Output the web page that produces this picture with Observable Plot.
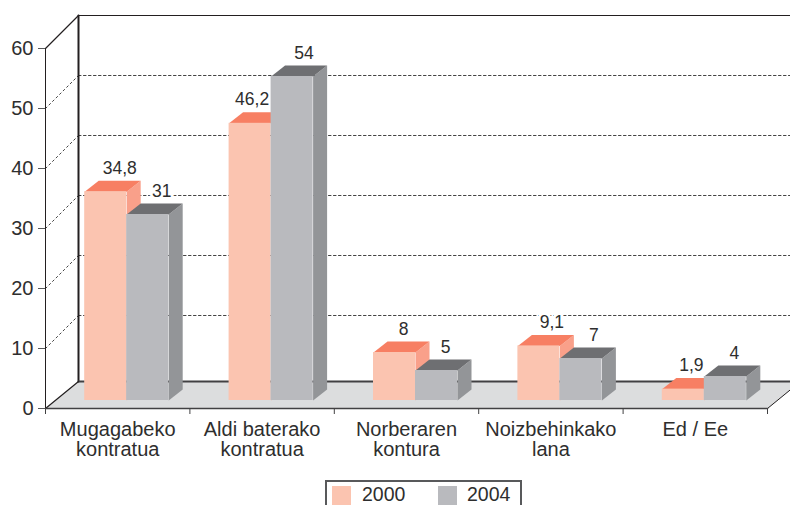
<!DOCTYPE html>
<html>
<head>
<meta charset="utf-8">
<script src="https://cdn.jsdelivr.net/npm/d3@7"></script>
<script src="https://cdn.jsdelivr.net/npm/@observablehq/plot@0.6"></script>
<style>
html,body{margin:0;padding:0;width:790px;height:505px;overflow:hidden;background:#fff}
#chart svg{display:block;overflow:hidden;max-width:none}
#legend{position:absolute;left:325px;top:480px;width:193px;height:40px;border:2px solid #58595b;
 font:19.5px "Liberation Sans",Arial,sans-serif;color:#2e2e2e}
#legend i{position:absolute;top:4px;width:19px;height:30px}
#legend span{position:absolute;top:3px;line-height:18px}
</style>
</head>
<body>
<div id="chart"></div>
<div id="legend"></div>
<script>
// data
const categories = ["Mugagabeko\nkontratua", "Aldi baterako\nkontratua", "Norberaren\nkontura", "Noizbehinkako\nlana", "Ed / Ee"];
const values2000 = [34.8, 46.2, 8, 9.1, 1.9];
const values2004 = [31, 54, 5, 7, 4];
const labels2000 = ["34,8", "46,2", "8", "9,1", "1,9"];
const labels2004 = ["31", "54", "5", "7", "4"];
const yTicks = [0, 10, 20, 30, 40, 50, 60];
const gridValues = [10, 20, 30, 40, 50];

// look
const colors2000 = {front: "#fbc4b0", top: "#f77f63", side: "#f9a08a"};
const colors2004 = {front: "#b9babe", top: "#6e6f72", side: "#939598"};
const ink = "#2e2e2e";
const font = '"Liberation Sans", Arial, sans-serif';

// 3D projection, in axis units (one x unit = one category, one y unit = one percent)
const pxX = 1 / 144.4, pxY = 1 / 6;
const wallX = 33 * pxX, wallY = 33 * pxY, floorY = 27 * pxY;
const barW = 42 * pxX, barShift = 9 * pxX, barBase = 8 * pxY;
const depthX = 14 * pxX, depthY = 11 * pxY;
const labelShift2000 = [14, 2, 9, 13, 8].map(d => d * pxX);
const labelShift2004 = [14, 12, 9, 13, 9].map(d => d * pxX);
const labelRise = 18 * pxY;

function bars(values, labels, offset, colors, shifts, name) {
  const rows = values.map((v, i) => {
    const x1 = i + 0.5 + barShift + offset * barW, x2 = x1 + barW, y1 = barBase, y2 = barBase + v;
    return {v, i, x1, x2, y1, y2, label: labels[i], lx: (x1 + x2) / 2 + shifts[i], ly: y2 + labelRise};
  });
  const polys = rows.flatMap(r => [
    ...[[r.x2, r.y1], [r.x2 + depthX, r.y1 + depthY], [r.x2 + depthX, r.y2 + depthY], [r.x2, r.y2]]
      .map(([x, y]) => ({x, y, id: `${name}s${r.i}`, c: colors.side})),
    ...[[r.x1, r.y2], [r.x2, r.y2], [r.x2 + depthX, r.y2 + depthY], [r.x1 + depthX, r.y2 + depthY]]
      .map(([x, y]) => ({x, y, id: `${name}t${r.i}`, c: colors.top}))
  ]);
  return {rows, polys, colors};
}
const a = bars(values2000, labels2000, -1, colors2000, labelShift2000, "a");
const b = bars(values2004, labels2004, 0, colors2004, labelShift2004, "b");

const floorPoly = [[0, 0], [5, 0], [5 + wallX, floorY], [wallX, floorY]].map(([x, y]) => ({x, y}));
const face = o => Plot.line(o.polys, {x: "x", y: "y", z: "id", fill: "c", stroke: "none", curve: "linear"});
const front = o => Plot.rect(o.rows, {x1: "x1", x2: "x2", y1: "y1", y2: "y2", fill: o.colors.front});
const valueText = o => Plot.text(o.rows, {x: "lx", y: "ly", text: "label", lineAnchor: "bottom", textAnchor: "middle",
  fontSize: 17.5, fill: ink, stroke: "white", strokeWidth: 6, paintOrder: "stroke"});
const seg = (p, opts) => Plot.line(p.map(([x, y]) => ({x, y})), {x: "x", y: "y", curve: "linear", ...opts});

const chart = Plot.plot({
  width: 790, height: 479,
  marginLeft: 45, marginRight: 23, marginTop: 48, marginBottom: 71,
  style: {background: "transparent", fontFamily: font},
  x: {domain: [0, 5], axis: null},
  y: {domain: [0, 60], axis: null},
  color: {type: "identity"},
  marks: [
    Plot.line(floorPoly, {x: "x", y: "y", fill: "#dcddde", stroke: "none", curve: "linear"}),
    // dotted wall and side grid
    ...gridValues.map(v => seg([[0, v], [wallX, v + wallY]], {stroke: "#444", strokeWidth: 1, strokeDasharray: "2,3"})),
    ...gridValues.map(v => seg([[wallX, v + wallY], [5.3, v + wallY]], {stroke: "#444", strokeWidth: 1, strokeDasharray: "2.5,2.5"})),
    // frame
    seg([[wallX, 60 + wallY], [5.3, 60 + wallY]], {stroke: "#231f20", strokeWidth: 1.2}),
    seg([[0, 60], [wallX, 60 + wallY]], {stroke: "#231f20", strokeWidth: 1.2}),
    seg([[0, 0], [0, 60]], {stroke: "#231f20", strokeWidth: 1}),
    seg([[wallX, floorY], [wallX, 60 + wallY]], {stroke: "#231f20", strokeWidth: 2}),
    seg([[wallX, floorY], [5 + wallX, floorY]], {stroke: "#414042", strokeWidth: 1.8}),
    seg([[0, 0], [wallX, floorY]], {stroke: "#231f20", strokeWidth: 1.2}),
    seg([[5, 0], [5 + wallX, floorY]], {stroke: "#231f20", strokeWidth: 1}),
    seg([[0, 0], [5, 0]], {stroke: "#414042", strokeWidth: 1.6}),
    valueText(a), valueText(b),
    face(a), front(a), face(b), front(b),
    // axes
    Plot.axisY({ticks: yTicks, tickSize: 7, tickPadding: 5, fontSize: 20, label: null, stroke: "#58595b", color: ink}),
    Plot.axisX({ticks: d3.range(6), tickSize: 6, tickFormat: () => "", label: null, stroke: "#414042"}),
    Plot.axisX({ticks: categories.map((_, i) => i + 0.5), tickSize: 0, tickPadding: 13.5, fontSize: 20, lineHeight: 1,
      tickFormat: d => categories[d - 0.5], label: null, color: ink})
  ]
});
document.getElementById("chart").append(chart);

const legend = document.getElementById("legend");
[[colors2000.front, "2000", 5, 35], [colors2004.front, "2004", 111, 140]].forEach(([c, t, sx, tx]) => {
  const i = document.createElement("i"); i.style.background = c; i.style.left = sx + "px"; legend.append(i);
  const s = document.createElement("span"); s.textContent = t; s.style.left = tx + "px"; legend.append(s);
});
</script>
</body>
</html>
